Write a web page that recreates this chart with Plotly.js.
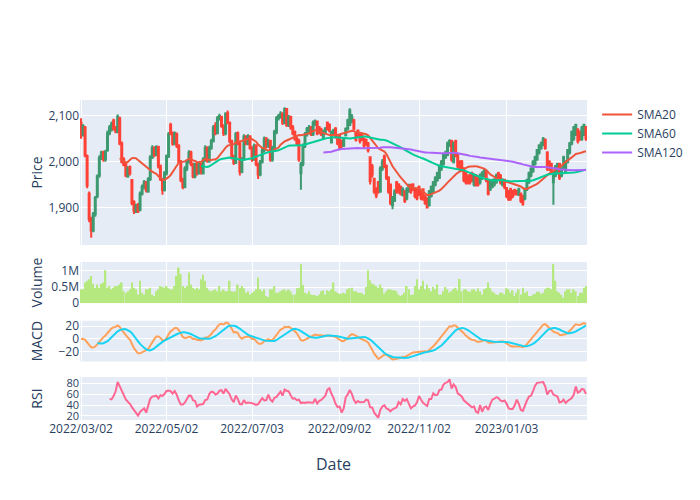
<!DOCTYPE html>
<html>
<head>
<meta charset="utf-8">
<script src="https://cdn.plot.ly/plotly-3.0.1.min.js"></script>
<style>html,body{margin:0;padding:0;}#chart{width:700px;height:500px;}</style>
</head>
<body>
<div id="chart"></div>
<script>
// ---- data (KRX trading days 2022-03-02 .. 2023-02-28) ----
const startDate = '2022-03-02';
const holidays = ['2022-03-09','2022-05-05','2022-06-01','2022-06-06','2022-08-15','2022-09-09','2022-09-12','2022-10-03','2022-10-10','2022-12-30','2023-01-23','2023-01-24'];

const opens = [
2085,2060,2075,2012,1930,1875,1850,1885,1925,1970,
2008,2020,2005,2025,2062,2070,2090,2075,2065,2095,
2040,2005,1995,1968,1988,1960,1912,1893,1905,1895,
1930,1945,1955,1935,1962,2010,2030,2015,2032,1990,
1960,1938,1975,2012,2080,2062,2040,2060,2035,2000,
1960,1945,1985,2000,2020,1995,1968,1995,1975,1995,
1975,2005,2030,2002,2030,2045,2078,2062,2095,2098,
2078,2062,2106,2085,2045,2010,1998,2062,2040,1978,
2005,2055,2040,2055,2030,2005,2035,1995,1972,2000,
2025,2050,2035,2045,2005,2030,2065,2095,2098,2105,
2085,2115,2080,2098,2075,2065,2050,2045,1975,1995,
2035,2060,2072,2075,2060,2082,2088,2075,2070,2052,
2065,2085,2080,2042,2062,2072,2054,2058,2045,2035,
2058,2072,2080,2088,2090,2062,2068,2058,2058,2050,
2048,2040,2010,1990,1962,1940,1955,1935,1985,2012,
1990,1965,1950,1905,1915,1955,1950,1945,1928,1935,
1920,1935,1948,1950,1940,1940,1945,1935,1940,1925,
1920,1905,1925,1935,1950,1960,1965,1985,1995,2010,
2015,2035,2045,2000,2045,2015,2000,2000,1985,1975,
1968,1970,1975,1950,1970,1965,1955,1965,1970,1978,
1960,1940,1945,1950,1955,1975,1970,1950,1960,1942,
1935,1940,1935,1938,1935,1928,1930,1925,1920,1940,
1955,1970,1980,1995,2005,2020,2030,2038,2048,2020,
2000,1995,1955,1970,1975,1995,1970,1985,1980,2000,
2020,2040,2050,2060,2070,2065,2050,2060,2075];

const highs = [
2095,2082,2078,2016,1935,1880,1890,1925,1972,2014,
2024,2024,2026,2068,2080,2088,2094,2078,2103,2098,
2044,2010,1998,1990,1992,1962,1916,1908,1910,1935,
1950,1960,1958,1966,2014,2036,2034,2036,2035,1994,
1965,1980,2016,2065,2085,2066,2066,2064,2038,2004,
1965,1990,2005,2025,2024,1998,1998,1998,2000,1998,
2010,2036,2034,2035,2050,2080,2086,2100,2105,2100,
2082,2108,2112,2088,2048,2015,2065,2066,2044,2010,
2060,2058,2060,2058,2034,2040,2038,1998,2004,2030,
2055,2054,2050,2048,2035,2070,2100,2104,2110,2108,
2119,2117,2102,2100,2080,2068,2054,2050,2000,2040,
2065,2076,2080,2078,2090,2092,2090,2078,2074,2070,
2076,2088,2084,2068,2072,2076,2058,2060,2048,2054,
2075,2094,2117,2104,2094,2066,2070,2062,2062,2053,
2050,2043,2012,1995,1965,1944,1958,1990,2006,2016,
1994,1968,1952,1925,1940,1958,1953,1948,1944,1938,
1944,1952,1952,1953,1944,1943,1948,1938,1942,1928,
1922,1938,1948,1958,1968,1978,1994,2004,2018,2024,
2044,2049,2048,2044,2048,2018,2003,2004,1988,1978,
1972,1973,1978,1974,1973,1968,1974,1979,1984,1982,
1963,1958,1963,1964,1974,1978,1973,1964,1963,1945,
1938,1943,1938,1941,1938,1943,1933,1928,1943,1963,
1978,1988,2003,2013,2028,2038,2044,2054,2051,2023,
2003,1998,1978,1993,1998,1998,1988,2013,2003,2028,
2043,2068,2078,2083,2073,2068,2078,2083,2078];

const lows = [
2050,2055,2010,1942,1868,1834,1846,1880,1920,1965,
2004,2000,2000,2022,2058,2066,2068,2062,2062,2036,
1996,1990,1966,1965,1970,1905,1886,1888,1888,1892,
1926,1940,1933,1932,1958,2006,2010,2012,1985,1958,
1928,1935,1970,2008,2058,2035,2036,2030,1995,1955,
1940,1942,1980,1996,1990,1964,1964,1970,1972,1972,
1972,2000,1998,1998,2026,2042,2058,2060,2090,2074,
2056,2058,2082,2040,2005,1993,1995,2036,1970,1975,
2002,2036,2036,2026,2000,2002,1990,1962,1968,1996,
2020,2030,2030,2000,2000,2026,2060,2090,2094,2080,
2082,2076,2076,2070,2058,2046,2036,2000,1939,1990,
2030,2055,2060,2056,2056,2078,2058,2060,2056,2048,
2060,2068,2064,2040,2058,2050,2036,2025,2030,2032,
2055,2068,2078,2084,2068,2044,2054,2040,2045,2030,
2035,2020,1950,1965,1930,1920,1930,1932,1980,1986,
1960,1930,1905,1896,1912,1930,1930,1926,1924,1910,
1916,1932,1930,1936,1920,1916,1925,1916,1915,1906,
1898,1902,1922,1932,1946,1956,1962,1980,1992,2006,
2012,2032,2000,1996,2010,1985,1980,1978,1955,1950,
1950,1950,1955,1946,1946,1946,1950,1960,1966,1955,
1926,1936,1942,1946,1952,1960,1950,1946,1940,1920,
1914,1915,1920,1926,1926,1925,1910,1904,1916,1936,
1952,1966,1976,1992,2002,2016,2026,2034,2026,1980,
1980,1976,1906,1966,1972,1960,1966,1982,1976,1996,
2016,2036,2046,2056,2040,2046,2046,2056,2046];

const closes = [
2060,2078,2014,1948,1875,1850,1885,1921,1968,2008,
2020,2005,2022,2062,2075,2083,2072,2066,2098,2040,
2000,1993,1970,1985,1975,1910,1893,1902,1892,1930,
1945,1955,1938,1962,2010,2030,2015,2032,1990,1962,
1938,1975,2012,2060,2062,2040,2062,2035,2000,1960,
1945,1985,2000,2020,1995,1968,1995,1975,1995,1978,
2005,2030,2002,2030,2045,2075,2062,2095,2100,2078,
2062,2105,2085,2045,2010,1998,2060,2040,1978,2005,
2055,2040,2055,2030,2005,2035,1995,1972,2000,2025,
2050,2035,2045,2005,2030,2065,2095,2100,2105,2085,
2115,2080,2098,2075,2062,2050,2040,2005,1995,2035,
2060,2072,2075,2060,2085,2088,2062,2065,2060,2065,
2072,2072,2068,2065,2068,2054,2040,2029,2035,2050,
2072,2090,2112,2098,2072,2048,2058,2045,2050,2035,
2040,2025,1958,1972,1935,1926,1935,1985,2000,1990,
1965,1935,1910,1920,1935,1935,1935,1930,1940,1915,
1940,1948,1935,1940,1925,1920,1930,1920,1920,1910,
1900,1935,1945,1955,1965,1975,1990,2000,2015,2020,
2040,2045,2005,2040,2015,1990,1985,1982,1960,1955,
1955,1955,1960,1970,1950,1950,1970,1975,1980,1960,
1930,1955,1960,1960,1970,1965,1955,1960,1945,1925,
1918,1920,1925,1930,1930,1940,1915,1908,1940,1960,
1975,1985,2000,2010,2025,2035,2040,2050,2030,1985,
1985,1980,1975,1990,1995,1965,1985,2010,2000,2025,
2040,2065,2075,2080,2045,2050,2075,2080,2050];

const volumes = [
430000,430000,640000,690000,740000,840000,600000,480000,580000,480000,
600000,640000,1020000,480000,530000,430000,480000,530000,530000,580000,
640000,370000,320000,370000,430000,640000,480000,430000,270000,690000,
320000,270000,430000,430000,480000,270000,220000,370000,430000,530000,
500000,480000,530000,460000,430000,430000,530000,840000,1100000,900000,
530000,480000,530000,950000,580000,480000,430000,480000,430000,740000,
880000,690000,480000,400000,370000,400000,430000,370000,530000,370000,
430000,370000,370000,690000,370000,350000,370000,580000,480000,530000,
460000,320000,370000,270000,320000,370000,430000,790000,430000,370000,
430000,220000,190000,430000,430000,530000,320000,320000,370000,400000,
430000,370000,430000,370000,270000,270000,460000,480000,1210000,560000,
320000,290000,370000,270000,250000,250000,220000,270000,370000,400000,
270000,400000,370000,430000,640000,370000,320000,290000,290000,320000,
290000,430000,460000,480000,370000,370000,320000,320000,310000,270000,
500000,1020000,710000,610000,580000,530000,480000,580000,480000,290000,
370000,430000,430000,400000,400000,370000,270000,220000,250000,320000,
530000,430000,250000,270000,530000,740000,430000,530000,690000,430000,
580000,460000,370000,500000,430000,580000,270000,270000,370000,500000,
430000,320000,370000,430000,480000,400000,750000,370000,430000,430000,
370000,350000,430000,430000,370000,460000,370000,270000,430000,460000,
640000,480000,370000,320000,270000,250000,320000,320000,270000,460000,
430000,320000,400000,220000,320000,430000,270000,480000,320000,370000,
220000,220000,270000,290000,350000,350000,290000,320000,430000,480000,
480000,430000,1210000,690000,370000,320000,250000,170000,370000,430000,
430000,320000,430000,370000,220000,320000,320000,480000,530000];

const tickDates  = ['2022-03-02','2022-05-02','2022-07-04','2022-09-02','2022-11-02','2023-01-03'];
const tickLabels = ['2022/03/02','2022/05/02','2022/07/03','2022/09/02','2022/11/02','2023/01/03'];

// ---- trading-day calendar ----
function buildDates(n){
  const out=[]; const d=new Date(startDate+'T00:00:00Z');
  while(out.length<n){
    const wd=d.getUTCDay(); const s=d.toISOString().slice(0,10);
    if(wd!==0 && wd!==6 && holidays.indexOf(s)<0) out.push(s);
    d.setUTCDate(d.getUTCDate()+1);
  }
  return out;
}
const dates = buildDates(closes.length);

// ---- indicators derived from closes ----
function sma(arr,n){return arr.map((v,i)=>{if(i<n-1||v===null)return null;let s=0;for(let k=i-n+1;k<=i;k++)s+=arr[k];return s/n;});}
// exponentially weighted mean with adjust=True weighting
function ema(arr,span){const a=2/(span+1);let num=0,den=0;return arr.map(v=>{num=v+(1-a)*num;den=1+(1-a)*den;return num/den;});}
const sma20=sma(closes,20), sma60=sma(closes,60), sma120=sma(closes,120);
const e12=ema(closes,12), e26=ema(closes,26);
const macd=e12.map((v,i)=>v-e26[i]);
const signal=sma(macd,9);
const rsi=closes.map((v,i)=>{
  if(i<14)return null;
  let g=0,l=0;
  for(let k=i-13;k<=i;k++){const d=closes[k]-closes[k-1]; if(d>0)g+=d; else l-=d;}
  if(l===0)return 100;
  return 100-100/(1+g/l);
});

const traces=[
 {type:'candlestick',x:dates,open:opens,high:highs,low:lows,close:closes,xaxis:'x',yaxis:'y',showlegend:false,name:'Price'},
 {type:'scatter',mode:'lines',x:dates,y:sma20,name:'SMA20',line:{color:'#EF553B',width:2},xaxis:'x',yaxis:'y'},
 {type:'scatter',mode:'lines',x:dates,y:sma60,name:'SMA60',line:{color:'#00CC96',width:2},xaxis:'x',yaxis:'y'},
 {type:'scatter',mode:'lines',x:dates,y:sma120,name:'SMA120',line:{color:'#AB63FA',width:2},xaxis:'x',yaxis:'y'},
 {type:'bar',x:dates,y:volumes,name:'Volume',marker:{color:'#B6E880'},showlegend:false,xaxis:'x2',yaxis:'y2'},
 {type:'scatter',mode:'lines',x:dates,y:macd,name:'MACD',line:{color:'#FFA15A',width:2},showlegend:false,xaxis:'x3',yaxis:'y3'},
 {type:'scatter',mode:'lines',x:dates,y:signal,name:'Signal',line:{color:'#19D3F3',width:2},showlegend:false,xaxis:'x3',yaxis:'y3'},
 {type:'scatter',mode:'lines',x:dates,y:rsi,name:'RSI',line:{color:'#FF6692',width:2},showlegend:false,xaxis:'x4',yaxis:'y4'}
];

const xbase={type:'category',tickmode:'array',tickvals:tickDates,ticktext:tickLabels,showticklabels:false};
const layout={
 width:700,height:500,
 font:{family:'"Open Sans", verdana, arial, sans-serif',size:12,color:'#2a3f5f'},
 paper_bgcolor:'white',plot_bgcolor:'#E5ECF6',
 margin:{l:80,r:80,t:100,b:80},
 legend:{x:1.02,y:1,xanchor:'left',yanchor:'top'},
 xaxis:Object.assign({},xbase,{anchor:'y',domain:[0,1],rangeslider:{visible:false},gridcolor:'white',matches:'x4'}),
 xaxis2:Object.assign({},xbase,{anchor:'y2',domain:[0,1],gridcolor:'white',matches:'x4'}),
 xaxis3:Object.assign({},xbase,{anchor:'y3',domain:[0,1],gridcolor:'white',matches:'x4'}),
 xaxis4:Object.assign({},xbase,{anchor:'y4',domain:[0,1],gridcolor:'white',showticklabels:true,title:{text:'Date',font:{size:16},standoff:22}}),
 yaxis:{domain:[0.547,1],title:{text:'Price'},tickformat:',',gridcolor:'white',zerolinecolor:'white'},
 yaxis2:{domain:[0.365,0.494],title:{text:'Volume'},gridcolor:'white',zerolinecolor:'white'},
 yaxis3:{domain:[0.183,0.31],title:{text:'MACD'},dtick:20,gridcolor:'white',zerolinecolor:'white'},
 yaxis4:{domain:[0,0.134],title:{text:'RSI'},dtick:20,tickfont:{size:11},gridcolor:'white',zerolinecolor:'white'}
};
Plotly.newPlot('chart',traces,layout,{displayModeBar:false});
</script>
</body>
</html>
